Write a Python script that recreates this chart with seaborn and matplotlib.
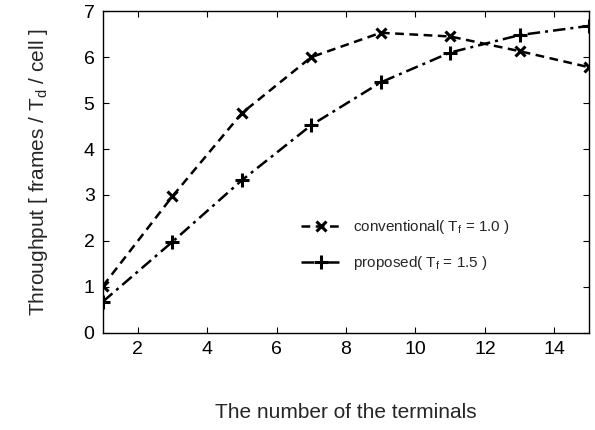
import matplotlib
matplotlib.use("Agg")
import matplotlib.pyplot as plt
import seaborn as sns
import pandas as pd

terminals = [1, 3, 5, 7, 9, 11, 13, 15]
conventional = [1.02, 2.97, 4.78, 6.00, 6.53, 6.45, 6.13, 5.78]
proposed = [0.68, 1.98, 3.32, 4.52, 5.45, 6.10, 6.48, 6.68]

sns.set_style("ticks")
plt.rcParams["font.family"] = ["Liberation Sans", "DejaVu Sans"]
plt.rcParams["mathtext.fontset"] = "custom"
plt.rcParams["mathtext.rm"] = "Liberation Sans"
plt.rcParams["mathtext.it"] = "Liberation Sans"

df = pd.DataFrame({"x": terminals, "conv": conventional, "prop": proposed})

fig, ax = plt.subplots(figsize=(5.95, 4.30), dpi=100)
fig.subplots_adjust(left=0.173, right=0.99, top=0.974, bottom=0.226)

sns.lineplot(data=df, x="x", y="conv", ax=ax, color="black", lw=1.8,
             linestyle=(0, (3.5, 2.2)),
             marker="x", markersize=7, markeredgewidth=2.2, markeredgecolor="black",
             label=r"conventional( T$_\mathrm{f}$ = 1.0 )")
sns.lineplot(data=df, x="x", y="prop", ax=ax, color="black", lw=1.8,
             linestyle=(0, (5, 2, 1.2, 2)),
             marker="+", markersize=10, markeredgewidth=2.2, markeredgecolor="black",
             label=r"proposed( T$_\mathrm{f}$ = 1.5 )")

ax.set_xlim(1, 15)
ax.set_ylim(0, 7)
ax.set_xticks([2, 4, 6, 8, 10, 12, 14])
ax.set_yticks(range(0, 8))
ax.tick_params(direction="in", top=True, right=True, labelsize=14, length=4, pad=6,
               color="black", labelcolor="black")
for s in ax.spines.values():
    s.set_linewidth(1.0)
    s.set_color("black")

ax.set_xlabel("The number of the terminals", fontsize=15, labelpad=32)
ax.set_ylabel(r"Throughput [ frames / T$_\mathrm{d}$ / cell ]", fontsize=15, labelpad=24)

leg = ax.legend(loc="upper left", bbox_to_anchor=(0.38, 0.40), frameon=False,
                fontsize=11, handlelength=2.6, labelspacing=1.2, handletextpad=0.8)

fig.savefig("out.png", dpi=100)
